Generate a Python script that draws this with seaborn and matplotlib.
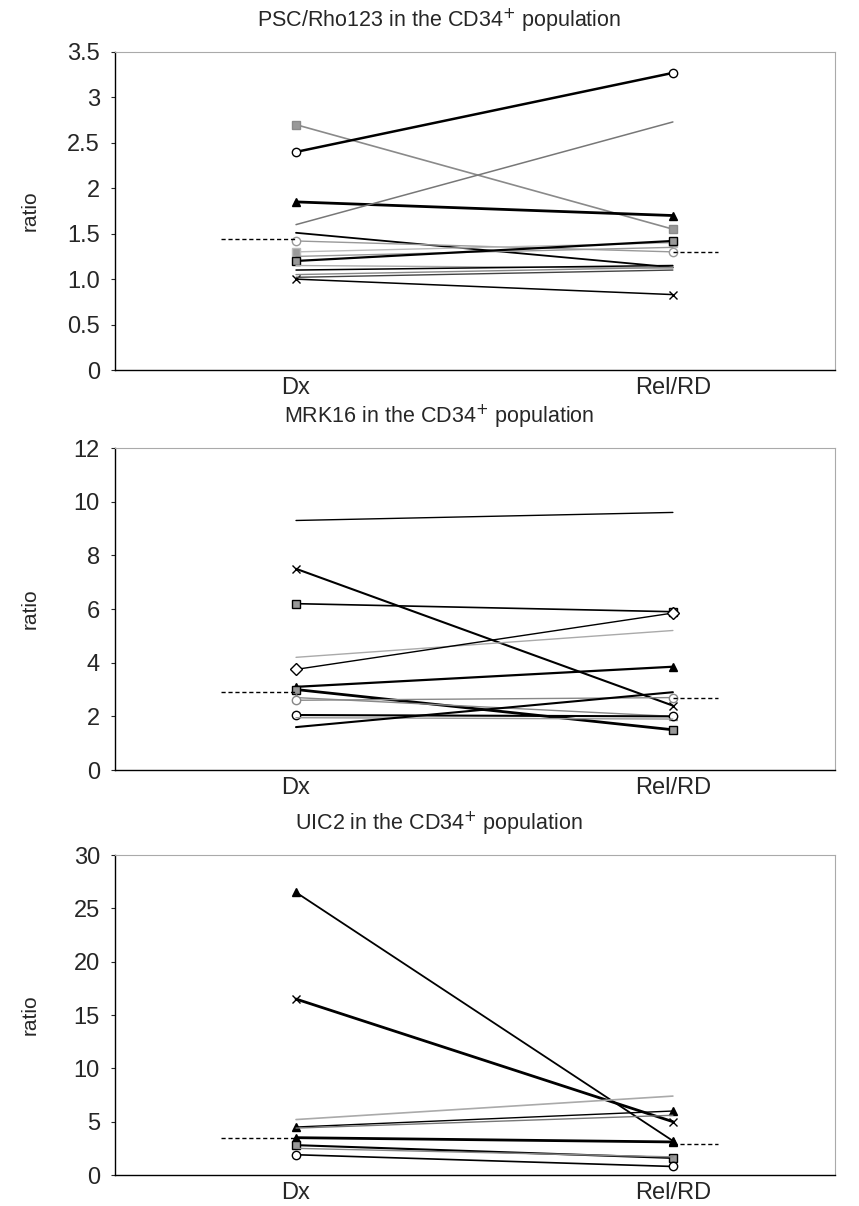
import matplotlib as mpl
from matplotlib import pyplot as plt
import numpy as np
import pandas as pd
import seaborn as sns

sns.set_style("white")
plt.rcParams['font.family'] = ['Liberation Sans', 'DejaVu Sans']

# Categories
CATEGORIES = ['Dx', 'Rel/RD']

# PSC/Rho123 ratios, one entry per patient
psc_dx = [2.70, 2.40, 1.85, 1.60, 1.51, 1.42, 1.30, 1.25, 1.20, 1.15, 1.10, 1.05, 1.00, 1.02]
psc_rel = [1.55, 3.27, 1.70, 2.73, 1.13, 1.30, 1.40, 1.35, 1.42, 1.12, 1.15, 1.13, 0.83, 1.10]
psc_mean = [1.44, 1.30]

# MRK16 ratios
mrk_dx = [9.3, 7.5, 6.2, 4.2, 3.75, 3.1, 3.0, 2.7, 2.6, 2.05, 1.95, 1.6]
mrk_rel = [9.6, 2.4, 5.9, 5.2, 5.85, 3.85, 1.5, 2.0, 2.7, 2.0, 1.9, 2.9]
mrk_mean = [2.9, 2.7]

# UIC2 ratios
uic_dx = [26.5, 16.5, 5.2, 4.5, 4.4, 3.5, 2.8, 2.5, 1.9]
uic_rel = [3.2, 5.0, 7.4, 6.0, 5.6, 3.1, 1.6, 1.7, 0.8]
uic_mean = [3.5, 2.9]

# line styles per series: (colour, width, marker)
psc_styles = [('#8a8a8a', 1.2, 's'), ('black', 1.8, 'o'), ('black', 2.0, '^'),
              ('#777777', 1.1, ''), ('black', 1.3, ''), ('#999999', 1.0, 'o'),
              ('#bbbbbb', 1.0, 's'), ('#999999', 1.0, ''), ('black', 1.6, 's'),
              ('#aaaaaa', 1.0, ''), ('black', 1.1, ''), ('#888888', 1.0, ''),
              ('black', 1.1, 'x'), ('#444444', 1.0, '')]
mrk_styles = [('black', 1.0, ''), ('black', 1.5, 'x'), ('black', 1.2, 's'),
              ('#aaaaaa', 1.0, ''), ('black', 1.0, 'D'), ('black', 1.6, '^'),
              ('black', 2.0, 's'), ('#888888', 1.0, '^'), ('#888888', 1.0, 'o'),
              ('black', 1.5, 'o'), ('#999999', 1.0, ''), ('black', 1.5, '')]
uic_styles = [('black', 1.3, '^'), ('black', 2.0, 'x'), ('#aaaaaa', 1.2, ''),
              ('black', 1.0, '^'), ('#777777', 1.0, ''), ('black', 2.0, '^'),
              ('black', 1.5, 's'), ('#888888', 1.0, ''), ('black', 1.2, 'o')]

panels = [
    ('PSC/Rho123 in the CD34$^{+}$ population', psc_dx, psc_rel, psc_mean, psc_styles,
     np.arange(0, 3.51, 0.5), ['0', '0.5', '1.0', '1.5', '2', '2.5', '3', '3.5']),
    ('MRK16 in the CD34$^{+}$ population', mrk_dx, mrk_rel, mrk_mean, mrk_styles,
     np.arange(0, 12.1, 2), None),
    ('UIC2 in the CD34$^{+}$ population', uic_dx, uic_rel, uic_mean, uic_styles,
     np.arange(0, 30.1, 5), None),
]

# axes rectangles (figure fraction)
rects = [[0.134, 0.6932, 0.838, 0.2637],
         [0.134, 0.3615, 0.838, 0.2670],
         [0.134, 0.0257, 0.838, 0.2653]]

fig = plt.figure(figsize=(8.59, 12.06), dpi=100)

for rect, (title, dx, rel, mean, styles, yticks, ylabels) in zip(rects, panels):
    axes = fig.add_axes(rect)

    # Long table for the series
    rows = []
    for ix, (a, b) in enumerate(zip(dx, rel)):
        rows.append({'id': ix, 'x': CATEGORIES.index('Dx'), 'ratio': a})
        rows.append({'id': ix, 'x': CATEGORIES.index('Rel/RD'), 'ratio': b})
    df = pd.DataFrame(rows)

    for ix, (color, lw, marker) in enumerate(styles):
        sub = df[df['id'] == ix]
        mfc = 'white' if marker in ('o', 'D') else ('#999999' if marker == 's' else color)
        sns.lineplot(data=sub, x='x', y='ratio', ax=axes, color=color, linewidth=lw,
                     marker=marker if marker else None, markersize=6,
                     markerfacecolor=mfc, markeredgecolor=color, markeredgewidth=1.0)

    # Dashed mean segments beside each category
    axes.plot([-0.2, 0], [mean[0]] * 2, color='black', ls='--', lw=1.0, dashes=(3, 2))
    axes.plot([1, 1.12], [mean[1]] * 2, color='black', ls='--', lw=1.0, dashes=(3, 2))

    axes.set_xlim(-0.48, 1.43)
    axes.set_ylim(yticks[0], yticks[-1])
    axes.set_yticks(yticks)
    if ylabels is not None:
        axes.set_yticklabels(ylabels)
    axes.set_xticks(range(len(CATEGORIES)))
    axes.set_xticklabels(CATEGORIES)

    axes.set_xlabel('')
    axes.set_ylabel('ratio', fontsize=15)
    axes.yaxis.set_label_coords(-0.105, 0.5)
    axes.set_title(title, fontsize=15.5, pad=18, x=0.45)

    axes.tick_params(axis='y', direction='out', length=3, width=0.8, labelsize=17, pad=8,
                     left=True)
    axes.tick_params(axis='x', length=0, labelsize=17, pad=5)

    for side in ['left', 'bottom']:
        axes.spines[side].set_color('black')
        axes.spines[side].set_linewidth(1.0)
    for side in ['top', 'right']:
        axes.spines[side].set_color('#aaaaaa')
        axes.spines[side].set_linewidth(0.8)

fig.savefig('out.png', dpi=100)
